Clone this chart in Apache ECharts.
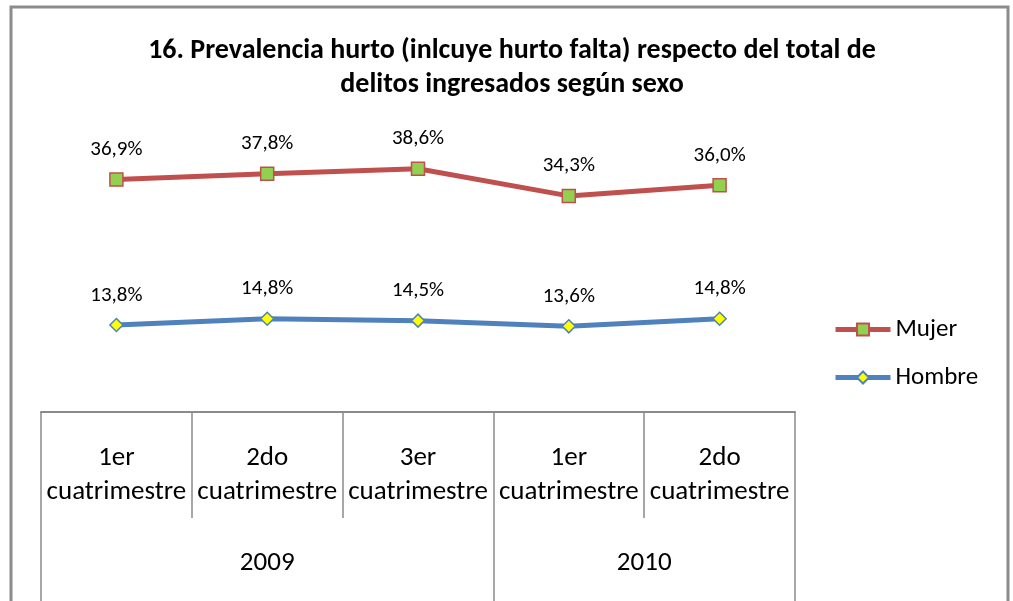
<!DOCTYPE html>
<html>
<head>
<meta charset="utf-8">
<title>Prevalencia hurto</title>
<script src="https://cdn.jsdelivr.net/npm/echarts@6/dist/echarts.min.js"></script>
<style>
    html, body { margin: 0; padding: 0; background: #fff; }
    #main { width: 1013px; height: 601px; }
</style>
</head>
<body>
<div id="main"></div>
<script>
// datos del grafico
var periodos = ['1er', '2do', '3er', '1er', '2do'];
var anios = ['2009', '2010'];
var aniosSpan = [3, 2];
var mujer = [36.9, 37.8, 38.6, 34.3, 36.0];
var hombre = [13.8, 14.8, 14.5, 13.6, 14.8];

var FONT = "Carlito, Calibri, 'Liberation Sans', sans-serif";
var GRIS = '#8a8a8a';

var categorias = periodos.map(function (p) { return p + '\ncuatrimestre'; });

// limites y centros de los bloques de anio
var limites = [0], centros = [], celdas = [0];
var acc = 0;
for (var i = 0; i < aniosSpan.length; i++) {
    centros.push(acc + aniosSpan[i] / 2);
    acc += aniosSpan[i];
    limites.push(acc);
}
for (var j = 1; j <= periodos.length; j++) celdas.push(j);

function fmt(p) {
    return p.value.toFixed(1).replace('.', ',') + '%';
}

var chart = echarts.init(document.getElementById('main'));
var option = {
    animation: false,
    backgroundColor: '#fff',
    title: {
        text: '16. Prevalencia hurto (inlcuye hurto falta) respecto del total de\ndelitos ingresados según sexo',
        left: 507,
        textAlign: 'center',
        top: 29,
        textStyle: {
            fontFamily: FONT,
            fontWeight: 'bold',
            fontSize: 28,
            lineHeight: 34,
            color: '#000',
            align: 'center'
        }
    },
    graphic: [{
        type: 'rect',
        shape: { x: 11, y: 7, width: 997, height: 600 },
        style: { fill: 'none', stroke: '#8c8c8c', lineWidth: 3 },
        silent: true
    }],
    legend: {
        orient: 'vertical',
        left: 833,
        top: 317,
        padding: 0,
        itemWidth: 55,
        itemHeight: 15,
        itemGap: 23,
        lineStyle: { width: 5 },
        textStyle: { fontFamily: FONT, fontSize: 25, color: '#000' },
        data: ['Mujer', 'Hombre']
    },
    grid: {
        left: 41,
        right: 218,
        top: 97,
        bottom: 189,
        containLabel: false
    },
    xAxis: [{
        type: 'category',
        data: categorias,
        boundaryGap: true,
        position: 'bottom',
        axisLine: { lineStyle: { color: GRIS, width: 2 } },
        axisTick: { show: false },
        axisLabel: {
            interval: 0,
            margin: 29,
            fontFamily: FONT,
            fontSize: 27,
            lineHeight: 34,
            color: '#000'
        }
    }, {
        // lineas de las celdas de cuatrimestre
        type: 'value',
        min: 0,
        max: periodos.length,
        position: 'bottom',
        axisLine: { show: false },
        splitLine: { show: false },
        axisTick: {
            show: true,
            customValues: celdas,
            length: 106,
            lineStyle: { color: GRIS, width: 1.5 }
        },
        axisLabel: { show: false }
    }, {
        // bloques de anio
        type: 'value',
        min: 0,
        max: periodos.length,
        position: 'bottom',
        axisLine: { show: false },
        splitLine: { show: false },
        axisTick: {
            show: true,
            customValues: limites,
            length: 194,
            lineStyle: { color: GRIS, width: 1.5 }
        },
        axisLabel: {
            customValues: centros,
            margin: 136,
            fontFamily: FONT,
            fontSize: 27,
            lineHeight: 30,
            color: '#000',
            formatter: function (v) {
                return anios[centros.indexOf(v)] || '';
            }
        }
    }],
    yAxis: {
        type: 'value',
        min: 0,
        max: 50,
        show: false,
        splitLine: { show: false }
    },
    series: [{
        name: 'Mujer',
        type: 'line',
        data: mujer,
        symbol: 'rect',
        symbolSize: 13,
        lineStyle: { color: '#C0504D', width: 5 },
        itemStyle: { color: '#92D050', borderColor: '#C0504D', borderWidth: 1.5 },
        label: {
            show: true,
            position: 'top',
            distance: 12,
            fontFamily: FONT,
            fontSize: 21,
            color: '#000',
            formatter: fmt
        }
    }, {
        name: 'Hombre',
        type: 'line',
        data: hombre,
        symbol: 'diamond',
        symbolSize: 13,
        lineStyle: { color: '#4F81BD', width: 5 },
        itemStyle: { color: '#FFFF00', borderColor: '#4F81BD', borderWidth: 1.5 },
        label: {
            show: true,
            position: 'top',
            distance: 12,
            fontFamily: FONT,
            fontSize: 21,
            color: '#000',
            formatter: fmt
        }
    }]
};
chart.setOption(option);
</script>
</body>
</html>
